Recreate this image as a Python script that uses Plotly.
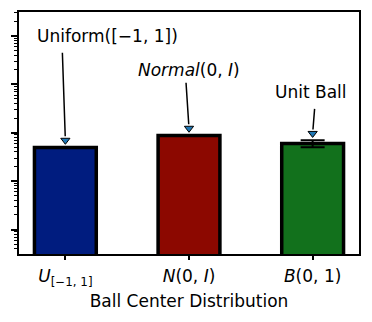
import numpy as np
import plotly.graph_objects as go

# values
labels = ["<i>U</i><sub>[−1, 1]</sub>", "<i>N</i>(0, <i>I</i>)", "<i>B</i>(0, 1)"]
means = [4.95e-3, 8.75e-3, 6.0e-3]
errs = [0.1e-3, 0.2e-3, 1.0e-3]
notes = ["Uniform([−1, 1])", "<i>Normal</i>(0, <i>I</i>)", "Unit Ball"]
colors = ["#001c7f", "#8c0800", "#12711c"]

xs = np.arange(len(means))
tips = (np.array(means) + np.array(errs)) * 10 ** 0.14

FONT = "DejaVu Sans"

fig = go.Figure()
fig.add_trace(go.Bar(
    x=xs, y=means, width=0.5,
    marker=dict(color=colors, line=dict(color="black", width=3.5)),
    error_y=dict(type="data", array=errs, color="black", thickness=2, width=12),
    showlegend=False,
))
# blue filled arrow heads
fig.add_trace(go.Scatter(
    x=xs, y=tips, mode="markers", showlegend=False,
    marker=dict(symbol="triangle-down", size=8, color="#1f77b4",
                line=dict(color="black", width=1)),
))

# arrow shafts
tails = [(-3, -88), (-3, -46), (2, -25)]
for x0, y0, (ax, ay) in zip(xs, tips, tails):
    fig.add_annotation(x=x0, y=np.log10(y0), xref="x", yref="y", text="",
                       font=dict(size=1), borderpad=0,
                       showarrow=True, arrowhead=0, arrowwidth=1.5,
                       arrowcolor="black", ax=ax, ay=ay, standoff=4)

# annotation texts
text_pos = [(0.259, 0.901), (0.5, 0.760), (0.859, 0.669)]
for t, (px, py) in zip(notes, text_pos):
    fig.add_annotation(x=px, y=py, xref="paper", yref="paper", text=t,
                       showarrow=False, xanchor="center", yanchor="middle",
                       font=dict(family=FONT, size=17, color="black"))

fig.update_xaxes(
    range=[-0.375, 2.375], tickvals=xs, ticktext=labels, automargin=False,
    ticks="outside", ticklen=4, tickwidth=1.5, tickcolor="black",
    ticklabelstandoff=2,
    showline=True, linecolor="black", linewidth=1.5, mirror=True,
    showgrid=False, zeroline=False,
    tickfont=dict(family=FONT, size=17, color="black"),
    title=dict(text="Ball Center Distribution", standoff=7,
               font=dict(family=FONT, size=17, color="black")),
)
fig.update_yaxes(
    type="log", range=[-4.506, 0.494], dtick=1, showticklabels=False, automargin=False,
    ticks="outside", ticklen=6, tickwidth=1.5, tickcolor="black",
    minor=dict(ticks="outside", ticklen=3, tickwidth=1, tickcolor="black", showgrid=False),
    showline=True, linecolor="black", linewidth=1.5, mirror=True,
    showgrid=False, zeroline=False,
)
fig.update_layout(
    width=372, height=322,
    margin=dict(l=19, r=13, t=12, b=68),
    plot_bgcolor="white", paper_bgcolor="white",
    font=dict(family=FONT, color="black"),
)

fig.write_html("out.html", config={"displayModeBar": False},
               post_script="document.body.style.margin='0';")
